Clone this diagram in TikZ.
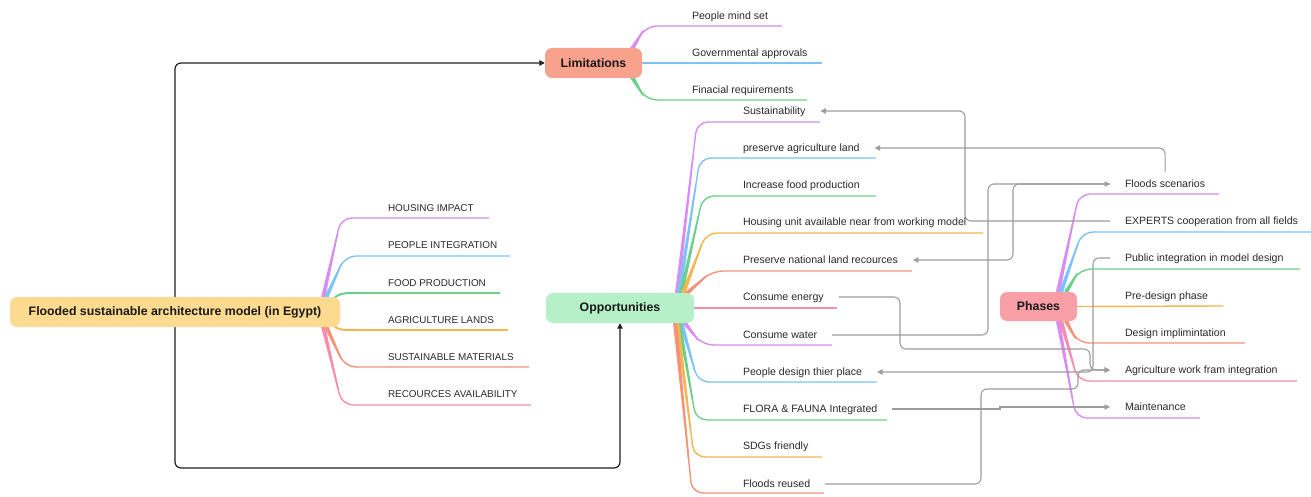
\documentclass[tikz,border=0pt]{standalone}
\usepackage{fontspec}
\setmainfont{Liberation Sans}
\usetikzlibrary{calc,arrows.meta}
\pgfdeclarelayer{back}\pgfdeclarelayer{bg}
\pgfsetlayers{back,bg,main}

\definecolor{cvio}{HTML}{D98CF2}
\definecolor{cblu}{HTML}{7CC3F8}
\definecolor{cgrn}{HTML}{6BD08A}
\definecolor{cora}{HTML}{F5B652}
\definecolor{ccor}{HTML}{F4937A}
\definecolor{cpnk}{HTML}{F78DAB}
\definecolor{froot}{HTML}{FCDA8F}
\definecolor{flim}{HTML}{F8A28D}
\definecolor{fopp}{HTML}{B6F0C8}
\definecolor{fph}{HTML}{F89EA7}
\definecolor{cgry}{HTML}{9C9C9C}
\definecolor{ctxt}{HTML}{2A2A2A}

\newcommand\brn[4]{%
  \coordinate (bS) at #2; \coordinate (bK) at #3;
  \coordinate (bM) at ($(bS)!0.8!(bK)$);
  \fill[#1] ($(bS)!2.1pt!90:(bK)$) -- ($(bS)!2.1pt!-90:(bK)$)
     -- ($(bM)!0.7pt!-90:(bK)$) -- ($(bM)!0.7pt!90:(bK)$) -- cycle;
  \draw[#1, line width=1.4pt, rounded corners=11pt] (bS) -- (bK) -- #4;
}

\tikzset{
  item/.style={font=\fontsize{10.6}{12}\selectfont, text=ctxt, inner sep=0pt,
    outer xsep=15pt, outer ysep=0pt, anchor=west, text height=7.5pt, text depth=0pt},
  capitem/.style={item, font=\fontsize{9.9}{12}\selectfont},
  mainbox/.style={rounded corners=7pt, font=\bfseries\fontsize{12.3}{14}\selectfont,
    text=black!90, minimum height=30pt, inner sep=0pt},
  gry/.style={draw=cgry, line width=1.1pt, rounded corners=6pt,
    -{Triangle[length=5.5pt,width=5.5pt]}, fill=none},
  blk/.style={draw=black!88, line width=1.2pt, rounded corners=6pt,
    -{Triangle[length=5.5pt,width=5.5pt]}},
}

\begin{document}
\begin{tikzpicture}[x=1pt,y=-1pt]
\useasboundingbox (0,0) rectangle (1311,497);
\begin{pgfonlayer}{back}
\fill[white] (0,0) rectangle (1311,497);
\end{pgfonlayer}

% main nodes
\node[mainbox, fill=froot, minimum width=330pt] (root) at (175,312) {Flooded sustainable architecture model (in Egypt)};
\node[mainbox, fill=flim, minimum width=97pt] (lim) at (593.5,63) {Limitations};
\node[mainbox, fill=fopp, minimum width=148pt] (opp) at (620,308) {Opportunities};
\node[mainbox, fill=fph, minimum width=77pt, minimum height=29pt] (ph) at (1038.5,306.5) {Phases};

% root children
\node[capitem] (r1) at (373,208) {HOUSING IMPACT};
\node[capitem] (r2) at (373,245) {PEOPLE INTEGRATION};
\node[capitem] (r3) at (373,283) {FOOD PRODUCTION};
\node[capitem] (r4) at (373,320) {AGRICULTURE LANDS};
\node[capitem] (r5) at (373,357) {SUSTAINABLE MATERIALS};
\node[capitem] (r6) at (373,394) {RECOURCES AVAILABILITY};

% limitations children
\node[item] (l1) at (677,16) {People mind set};
\node[item] (l2) at (677,53) {Governmental approvals};
\node[item] (l3) at (677,90) {Finacial requirements};

% opportunities children
\node[item] (o1) at (728,111) {Sustainability};
\node[item] (o2) at (728,148) {preserve agriculture land};
\node[item] (o3) at (728,185) {Increase food production};
\node[item] (o4) at (728,222) {Housing unit available near from working model};
\node[item] (o5) at (728,260) {Preserve national land recources};
\node[item] (o6) at (728,297) {Consume energy};
\node[item] (o7) at (728,335) {Consume water};
\node[item] (o8) at (728,372) {People design thier place};
\node[item] (o9) at (728,409) {FLORA \& FAUNA Integrated};
\node[item] (o10) at (728,446) {SDGs friendly};
\node[item] (o11) at (728,484) {Floods reused};

% phases children
\node[item] (p1) at (1110,184) {Floods scenarios};
\node[item] (p2) at (1110,221) {EXPERTS cooperation from all fields};
\node[item] (p3) at (1110,258) {Public integration in model design};
\node[item] (p4) at (1110,296) {Pre-design phase};
\node[item] (p5) at (1110,333) {Design implimintation};
\node[item] (p6) at (1110,370) {Agriculture work fram integration};
\node[item] (p7) at (1110,407) {Maintenance};

\coordinate (vA) at (965,0);
\coordinate (vC) at (988,0);
\coordinate (vD) at (1013,0);
\coordinate (vE1) at (900,349);
\coordinate (vE2) at (1090,349);
\coordinate (vF) at (1093,0);
\coordinate (vG1) at (981,389);
\coordinate (vG2) at (1078,389);
\coordinate (vH) at (1000,0);
\coordinate (bot) at (620,468);

\begin{pgfonlayer}{bg}
% branches root
\brn{cvio}{(323,298)}{(341,218)}{(489,218)}
\brn{cblu}{(326,298)}{(345,256)}{(510,256)}
\draw[cgrn, line width=2pt] (333,299) .. controls (338,294) and (342,293) .. (354,293);
\draw[cgrn, line width=1.4pt] (354,293) -- (500,293);
\draw[cora, line width=2pt] (333,325) .. controls (338,330) and (342,330) .. (354,330);
\draw[cora, line width=1.4pt] (354,330) -- (508,330);
\brn{ccor}{(326,326)}{(345,367)}{(529,367)}
\brn{cpnk}{(323,326)}{(342,405)}{(531,405)}
% branches limitations
\brn{cvio}{(632,49)}{(646,26)}{(782,26)}
\draw[cblu, line width=1.4pt] (lim.east) -- (822,63);
\brn{cgrn}{(632,77)}{(646,100)}{(807,100)}
% branches opportunities
\brn{cvio}{(677,294)}{(697,122)}{(820,122)}
\brn{cblu}{(679,294)}{(700,158)}{(876,158)}
\brn{cgrn}{(681,294)}{(703,196)}{(876,196)}
\brn{cora}{(683,294)}{(706,233)}{(983,233)}
\brn{ccor}{(686,294)}{(712,271)}{(912,271)}
\draw[cpnk, line width=1.4pt] (opp.east) -- (837,308);
\brn{cvio}{(684,322)}{(702,345)}{(832,345)}
\brn{cblu}{(681,322)}{(698,382)}{(877,382)}
\brn{cgrn}{(679,322)}{(696,420)}{(887,420)}
\brn{cora}{(677,322)}{(694,457)}{(822,457)}
\brn{ccor}{(675,322)}{(692,493)}{(824,493)}
% branches phases
\brn{cvio}{(1058,292)}{(1079,194)}{(1219,194)}
\brn{cblu}{(1061,292)}{(1082,232)}{(1311,232)}
\brn{cgrn}{(1066,292)}{(1080,269)}{(1300,269)}
\draw[cora, line width=1.4pt] (ph.east) -- (1223,306);
\brn{ccor}{(1066,321)}{(1078,343)}{(1245,343)}
\brn{cpnk}{(1061,321)}{(1078,381)}{(1297,381)}
\brn{cvio}{(1058,321)}{(1076,418)}{(1200,418)}

% black connectors
\draw[blk] (root.north) |- (lim.west);
\draw[blk] (root.south) |- (bot) -- (opp.south);

% grey connectors
\draw[gry] (p2.west) -- (p2.west -| vA) -- (o1.east -| vA) -- (o1.east);
\draw[gry] ([yshift=8pt]p1.north) -- (p1.north |- o2.east) -- (o2.east);
\draw[gry] (o7.east) -- (o7.east -| vC) -- (p1.west -| vC) -- (p1.west);
\draw[gry] (p1.west) -- (p1.west -| vD) -- (o5.east -| vD) -- (o5.east);
\draw[gry] (o6.east) -- (o6.east -| vE1) -- (vE1) -- (vE2) -- (p6.west -| vE2) -- (p6.west);
\draw[gry] (p3.west) -- (p3.west -| vF) -- (o8.east -| vF) -- (o8.east);
\draw[gry] (o11.east) -- (o11.east -| vG1) -- (vG1) -- (vG2) -- (p6.west -| vG2) -- (p6.west);
\draw[gry, rounded corners=0pt] (o9.east) -- (o9.east -| vH) -- (p7.west -| vH) -- (p7.west);
\end{pgfonlayer}
\end{tikzpicture}
\end{document}
